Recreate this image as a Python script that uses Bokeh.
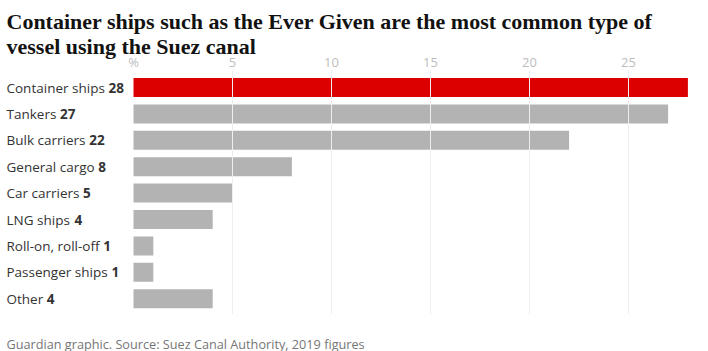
from bokeh.plotting import figure
from bokeh.models import ColumnDataSource, Range1d, Label
from bokeh.core.properties import value
from bokeh.embed import file_html
from bokeh.resources import INLINE

categories = ["Container ships", "Tankers", "Bulk carriers", "General cargo", "Car carriers",
              "LNG ships", "Roll-on, roll-off", "Passenger ships", "Other"]
shares = [28, 27, 22, 8, 5, 4, 1, 1, 4]
tick_values = [0, 5, 10, 15, 20, 25]
tick_labels = ["%", "5", "10", "15", "20", "25"]

# ---- layout / styling ----
LEFT = 133
PX_PER_UNIT = 19.8
ROW_TOP = 87
ROW_STEP = 26.4
W, H = 708, 351
LABEL_SIZE = 13.5
LABEL_X = 6

# approximate Open Sans advance widths (units per em = 2048) for placing the bold numbers
_ADV = {' ': 532, 'a': 1139, 'b': 1255, 'c': 975, 'd': 1255, 'e': 1149, 'f': 694, 'g': 1122,
        'h': 1257, 'i': 518, 'k': 1075, 'l': 518, 'm': 1905, 'n': 1257, 'o': 1237, 'p': 1255,
        'r': 836, 's': 977, 't': 723, 'u': 1257, 'v': 1026, 'y': 1028, 'C': 1296, 'G': 1487,
        'L': 1120, 'N': 1659, 'O': 1599, 'P': 1266, 'R': 1284, 'T': 1149, 'B': 1360,
        ',': 500, '-': 659}


def text_width(s, size):
    return sum(_ADV.get(ch, 1100) for ch in s) / 2048 * size


x0 = -LEFT / PX_PER_UNIT
x1 = (W - LEFT) / PX_PER_UNIT
y_bottom = (H - ROW_TOP) / ROW_STEP
y_top = -ROW_TOP / ROW_STEP

p = figure(width=W, height=H, output_backend="svg", toolbar_location=None,
           x_range=Range1d(x0, x1), y_range=Range1d(y_bottom, y_top),
           min_border=0, min_border_left=0, min_border_right=0,
           min_border_top=0, min_border_bottom=0)
p.axis.visible = False
p.grid.visible = False
p.outline_line_color = None
p.background_fill_color = "white"
p.border_fill_color = "white"

n = len(categories)
idx = list(range(n))
colors = ["#dc0000"] + ["#b3b3b3"] * (n - 1)
src = ColumnDataSource(dict(
    y=idx, v=shares, c=colors, name=categories,
    num=[str(s) for s in shares],
    noff=[LABEL_X + text_width(c + " ", LABEL_SIZE) - LEFT for c in categories],
))

p.hbar(y="y", left=0, right="v", height=0.72, fill_color="c", line_color=None, source=src)

# gridlines drawn over the bars
gx = tick_values[1:]
p.segment(x0=gx, x1=gx, y0=[-0.65] * len(gx), y1=[n - 0.4] * len(gx),
          line_color="#eeeeee", line_width=1)

# tick labels
p.text(x=tick_values, y=[-0.95] * len(tick_values), text=tick_labels,
       text_font=value("Open Sans"), text_font_size="13px", text_color="#bdbdbd",
       text_align="center", text_baseline="middle")

# category labels
p.text(x=0, y="y", text="name", x_offset=LABEL_X - LEFT, source=src,
       text_font=value("Open Sans"), text_font_size=f"{LABEL_SIZE}px", text_color="#333333",
       text_align="left", text_baseline="middle")
p.text(x=0, y="y", text="num", x_offset="noff", source=src,
       text_font=value("Open Sans"), text_font_size=f"{LABEL_SIZE}px", text_color="#333333",
       text_font_style="bold", text_align="left", text_baseline="middle")

# title
for i, line in enumerate(["Container ships such as the Ever Given are the most common type of",
                          "vessel using the Suez canal"]):
    p.add_layout(Label(x=6, y=H - 21 - 25 * i, x_units="screen", y_units="screen", text=line,
                       text_font="Liberation Serif", text_font_size="22px", text_font_style="bold",
                       text_color="#121212", text_baseline="alphabetic"))

p.add_layout(Label(x=6, y=H - 343, x_units="screen", y_units="screen",
                   text="Guardian graphic. Source: Suez Canal Authority, 2019 figures",
                   text_font="Open Sans", text_font_size="12.7px", text_color="#767676",
                   text_baseline="alphabetic"))

open("out.html", "w").write(file_html(p, INLINE))
